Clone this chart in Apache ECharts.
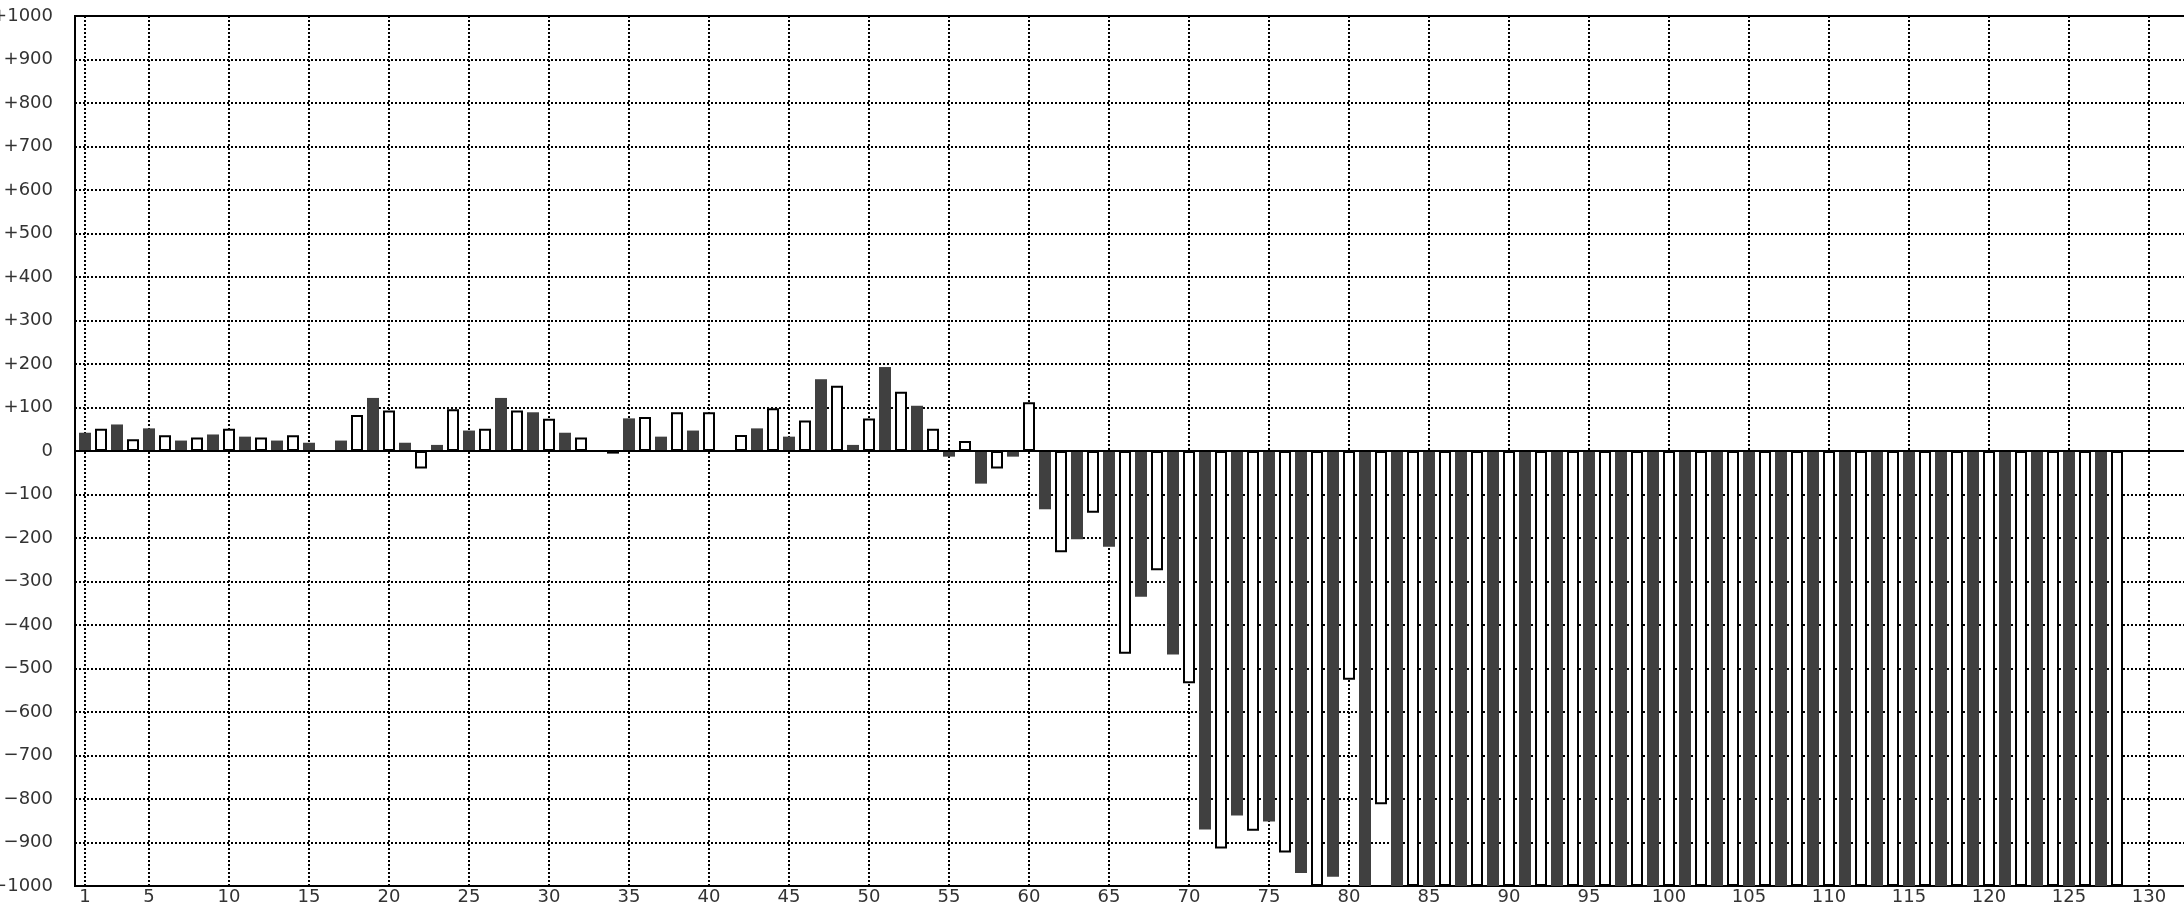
<!DOCTYPE html>
<html><head><meta charset="utf-8">
<script src="https://cdn.jsdelivr.net/npm/echarts@6/dist/echarts.min.js"></script>
<style>html,body{margin:0;padding:0;background:#fff}#c{width:2184px;height:908px}</style>
</head><body><div id="c"></div>
<script>
const categories = [];
for (let i = 1; i <= 128; i++) categories.push(i);
const values = [
  42, 51, 61, 27, 52, 36, 24, 31, 38, 51,
  33, 31, 24, 36, 19, 0, 24, 83, 122, 93,
  19, -40, 14, 96, 47, 51, 122, 93, 89, 74,
  42, 31, 0, -6, 75, 78, 33, 89, 47, 89,
  0, 37, 52, 98, 33, 70, 165, 150, 14, 75,
  193, 136, 104, 51, -13, 23, -75, -40, -13, 112,
  -134, -233, -203, -142, -220, -466, -335, -274, -468, -534,
  -870, -914, -838, -873, -852, -923, -970, -1000, -979, -526,
  -1000, -812, -1000, -1000, -1000, -1000, -1000, -1000, -1000, -1000,
  -1000, -1000, -1000, -1000, -1000, -1000, -1000, -1000, -1000, -1000,
  -1000, -1000, -1000, -1000, -1000, -1000, -1000, -1000, -1000, -1000,
  -1000, -1000, -1000, -1000, -1000, -1000, -1000, -1000, -1000, -1000,
  -1000, -1000, -1000, -1000, -1000, -1000, -1000, -1000
];
const xTickValues = [1, 5, 10, 15, 20, 25, 30, 35, 40, 45, 50, 55, 60, 65, 70, 75, 80, 85, 90, 95, 100, 105, 110, 115, 120, 125, 130];
const yTickValues = [-1000, -900, -800, -700, -600, -500, -400, -300, -200, -100, 0, 100, 200, 300, 400, 500, 600, 700, 800, 900, 1000];
const yTickLabels = ['\u22121000', '\u2212900', '\u2212800', '\u2212700', '\u2212600', '\u2212500', '\u2212400', '\u2212300', '\u2212200', '\u2212100', '0', '+100', '+200', '+300', '+400', '+500', '+600', '+700', '+800', '+900', '+1000'];

const darkStyle = { color: '#404040', borderWidth: 0 };
const whiteStyle = { color: '#ffffff', borderColor: '#000000', borderWidth: 2 };
const seriesData = values.map((v, i) => ({
  value: [categories[i], v],
  itemStyle: categories[i] % 2 === 1 ? darkStyle : whiteStyle
}));

const FONT = 'DejaVu Sans';
const gridLeft = 75, gridWidth = 2140, pxPerUnit = 16, xMin = 0.375;
const chart = echarts.init(document.getElementById('c'), null, { renderer: 'canvas' });
chart.setOption({
  animation: false,
  backgroundColor: '#ffffff',
  grid: {
    left: gridLeft, top: 16, width: gridWidth, height: 870,
    show: true, borderColor: '#000', borderWidth: 2, backgroundColor: 'transparent',
    containLabel: false, outerBoundsMode: 'none'
  },
  xAxis: {
    type: 'value',
    min: xMin, max: xMin + gridWidth / pxPerUnit,
    axisLine: { show: true, onZero: false, lineStyle: { color: '#000', width: 2 } },
    axisTick: { show: false, customValues: xTickValues },
    axisLabel: {
      customValues: xTickValues, color: '#333', fontFamily: FONT, fontSize: 18, margin: 2,
      formatter: v => String(v)
    },
    splitLine: { show: true, lineStyle: { color: '#000', width: 2, type: [2, 2] } }
  },
  yAxis: {
    type: 'value', min: -1000, max: 1000, interval: 100,
    axisLine: { show: true, lineStyle: { color: '#000', width: 2 } },
    axisTick: { show: false },
    axisLabel: {
      color: '#333', fontFamily: FONT, fontSize: 18, margin: 22,
      showMinLabel: true, showMaxLabel: true,
      formatter: v => yTickLabels[yTickValues.indexOf(Math.round(v))]
    },
    splitLine: { show: true, lineStyle: { color: '#000', width: 2, type: [2, 2] } }
  },
  series: [{
    type: 'bar',
    barWidth: 12,
    data: seriesData,
    clip: true,
    markLine: {
      silent: true, symbol: 'none', animation: false,
      label: { show: false },
      lineStyle: { color: '#000', width: 2, type: 'solid' },
      data: [{ yAxis: 0 }]
    }
  }]
});
</script>
</body></html>
